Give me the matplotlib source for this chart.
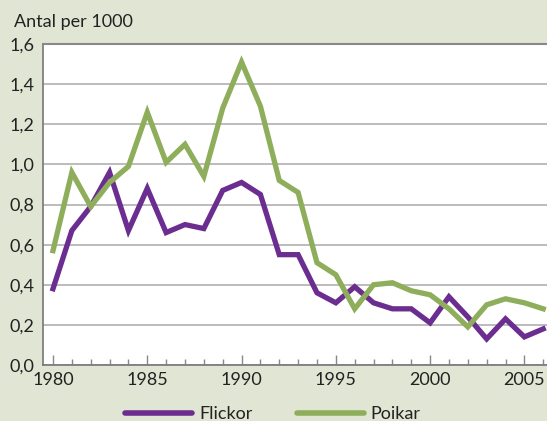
import matplotlib.pyplot as plt
from matplotlib.lines import Line2D
from matplotlib.ticker import MultipleLocator, FuncFormatter

years = list(range(1980, 2007))
flickor = [0.38, 0.67, 0.79, 0.96, 0.67, 0.88, 0.66, 0.70, 0.68, 0.87, 0.91, 0.85, 0.55, 0.55,
           0.36, 0.31, 0.39, 0.31, 0.28, 0.28, 0.21, 0.34, 0.24, 0.13, 0.23, 0.14, 0.18]
poikar = [0.57, 0.96, 0.79, 0.91, 0.99, 1.26, 1.01, 1.10, 0.94, 1.28, 1.51, 1.29, 0.92, 0.86,
          0.51, 0.45, 0.28, 0.40, 0.41, 0.37, 0.35, 0.28, 0.19, 0.30, 0.33, 0.31, 0.28]

bg = "#e1e5d3"
purple = "#6b2d8f"
green = "#8fae5b"
txt = "#222222"

plt.rcParams['font.family'] = ['Lato', 'DejaVu Sans']

fig = plt.figure(figsize=(5.47, 4.21), dpi=100, facecolor=bg)
ax = fig.add_axes([43 / 547, 1 - 365 / 421, 504 / 547, 321 / 421])
ax.set_facecolor("white")

ax.plot(years, flickor, color=purple, lw=3.8, solid_joinstyle="miter")
ax.plot(years, poikar, color=green, lw=3.8, solid_joinstyle="miter")

ax.set_xlim(1979.47, 2006.2)
ax.set_ylim(0, 1.6)

ax.yaxis.set_major_locator(MultipleLocator(0.2))
ax.yaxis.set_major_formatter(FuncFormatter(lambda v, p: f"{v:.1f}".replace(".", ",")))
ax.grid(axis="y", color="#aaaaaa", lw=1.1)
ax.set_axisbelow(True)

ax.xaxis.set_major_locator(MultipleLocator(5))
ax.xaxis.set_minor_locator(MultipleLocator(1))
ax.tick_params(axis="x", which="major", direction="in", length=7, width=1, color="#888888",
               labelsize=13, labelcolor=txt, pad=5)
ax.tick_params(axis="x", which="minor", direction="in", length=4, width=1, color="#888888")
ax.tick_params(axis="y", length=0, labelsize=13, labelcolor=txt, pad=6)

ax.spines["right"].set_visible(False)
ax.spines["top"].set_color("#888888")
ax.spines["top"].set_linewidth(1.5)
for s in ["left", "bottom"]:
    ax.spines[s].set_color("#777777")
    ax.spines[s].set_linewidth(1.2)

fig.text(14 / 547, 1 - 22 / 421, "Antal per 1000", fontsize=13, color=txt, va="center", ha="left")

handles = [Line2D([0], [0], color=purple, lw=4, solid_capstyle="round"),
           Line2D([0], [0], color=green, lw=4, solid_capstyle="round")]
fig.legend(handles, ["Flickor", "Poikar"], loc="center", bbox_to_anchor=(0.499, 1 - 414 / 421),
           ncol=2, frameon=False, fontsize=13, handlelength=3.7, columnspacing=2.45,
           handletextpad=0.4, labelcolor=txt, borderpad=0)

fig.savefig("out.png", dpi=100, facecolor=bg)
